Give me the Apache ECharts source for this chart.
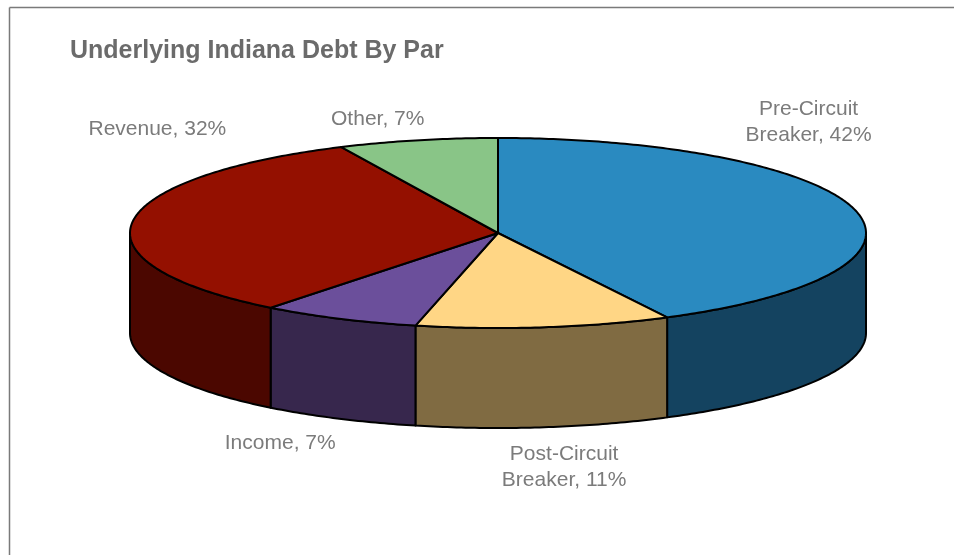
<!DOCTYPE html>
<html>
<head>
<meta charset="utf-8">
<script src="https://cdn.jsdelivr.net/npm/echarts@6/dist/echarts.min.js"></script>
<style>
  html, body { margin: 0; padding: 0; background: #fff; }
  #chart { width: 954px; height: 555px; }
</style>
</head>
<body>
<div id="chart"></div>
<script>
// data, clockwise from 12 o'clock
var sliceNames = ['Pre-Circuit\nBreaker', 'Post-Circuit\nBreaker', 'Income', 'Revenue', 'Other'];
var sliceValues = [42.4, 11.2, 7.0, 32.4, 7.0];
var topColors = ['#2a8ac0', '#ffd685', '#6b4f9b', '#941000', '#89c587'];
var sideColors = ['#144360', '#806b42', '#37274d', '#4b0700', '#445f43'];
// label shift from the slice's mid point on the top face
var labelShift = [[-47, -88], [20, 140], [-59, 125], [25, -93], [-40, -21]];

window.onload = function () {
  var chart = echarts.init(document.getElementById('chart'));

  var RX = 368, RY = 95, DEPTH = 100;
  var total = 0;
  var starts = [];
  for (var i = 0; i < sliceValues.length; i++) {
    starts.push(total);
    total += sliceValues[i];
  }

  // point on the flattened top face
  function flat(api, a, drop) {
    var c = api.coord([0, 0]);
    var p = api.coord([1, a]);
    return [p[0], c[1] + (p[1] - c[1]) * RY / RX + (drop || 0)];
  }

  function arc(api, a, b, drop) {
    var pts = [];
    var step = (b - a) / Math.max(2, Math.ceil(Math.abs(b - a) / 0.2));
    for (var t = a; (step > 0 ? t <= b + 1e-9 : t >= b - 1e-9); t += step) {
      pts.push(flat(api, t, drop));
    }
    return pts;
  }

  function renderWall(params, api) {
    var i = params.dataIndex;
    var a = starts[i], b = starts[i] + sliceValues[i];
    // only the front half (25%..75% of the turn) shows its side
    var lo = Math.max(a, total * 0.25), hi = Math.min(b, total * 0.75);
    if (lo >= hi) return null;
    var pts = arc(api, lo, hi, 0).concat(arc(api, hi, lo, DEPTH));
    return {
      type: 'polygon',
      shape: { points: pts },
      style: { fill: sideColors[i], stroke: '#000', lineWidth: 2, lineJoin: 'round' }
    };
  }

  function renderTop(params, api) {
    var i = params.dataIndex;
    var a = starts[i], b = starts[i] + sliceValues[i];
    var c = api.coord([0, 0]);
    var pts = [[c[0], c[1]]].concat(arc(api, a, b, 0));
    var mid = flat(api, (a + b) / 2, 0);
    var pct = Math.round(sliceValues[i] / total * 100);
    return {
      type: 'group',
      children: [
        {
          type: 'polygon',
          shape: { points: pts },
          style: { fill: topColors[i], stroke: '#000', lineWidth: 2, lineJoin: 'round' }
        },
        {
          type: 'text',
          style: {
            text: sliceNames[i] + ', ' + pct + '%',
            x: mid[0] + labelShift[i][0],
            y: mid[1] + labelShift[i][1],
            align: 'center',
            verticalAlign: 'middle',
            font: '21px "Liberation Sans", Arial, sans-serif',
            lineHeight: 26,
            fill: '#7b7b7b'
          }
        }
      ]
    };
  }

  var pieData = sliceValues.map(function (v) { return [1, v]; });

  var option = {
    backgroundColor: '#fff',
    animation: false,
    title: {
      text: 'Underlying Indiana Debt By Par',
      left: 65,
      top: 34,
      textStyle: {
        fontFamily: '"Liberation Sans", Arial, sans-serif',
        fontSize: 25,
        fontWeight: 'bold',
        color: '#6b6b6b'
      }
    },
    polar: { center: [498, 233], radius: RX },
    angleAxis: { type: 'value', min: 0, max: total, startAngle: 90, show: false },
    radiusAxis: { type: 'value', min: 0, max: 1, show: false },
    graphic: [
      { type: 'line', shape: { x1: 9.5, y1: 7.5, x2: 954, y2: 7.5 }, style: { stroke: '#7a7a7a', lineWidth: 1.5 } },
      { type: 'line', shape: { x1: 9.5, y1: 7.5, x2: 9.5, y2: 555 }, style: { stroke: '#7a7a7a', lineWidth: 1.5 } }
    ],
    series: [
      {
        type: 'custom',
        coordinateSystem: 'polar',
        z: 1,
        silent: true,
        renderItem: renderWall,
        data: pieData
      },
      {
        type: 'custom',
        coordinateSystem: 'polar',
        z: 2,
        silent: true,
        renderItem: renderTop,
        data: pieData
      }
    ]
  };

  chart.setOption(option);
};
</script>
</body>
</html>
